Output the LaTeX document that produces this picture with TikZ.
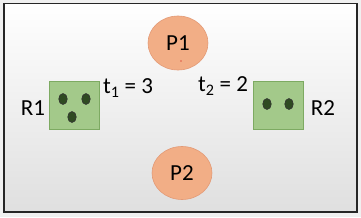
\documentclass[tikz,border=0pt]{standalone}
\usepackage{fontspec}
\setmainfont{Carlito}
\usetikzlibrary{shapes.geometric}
\begin{document}
\begin{tikzpicture}[x=1pt,y=-1pt,
  proc/.style={ellipse,draw=procborder,line width=0.6pt,fill=procfill,minimum width=60pt,minimum height=54pt,inner sep=0pt,font=\fontsize{23}{23}\selectfont},
  res/.style={draw=resborder,line width=0.8pt,fill=resfill,minimum width=50pt,minimum height=48pt,inner sep=0pt},
  inst/.style={ellipse,draw=black!80,line width=0.6pt,fill=instfill,minimum width=8.5pt,minimum height=11pt,inner sep=0pt},
  lbl/.style={font=\fontsize{23}{23}\selectfont,inner sep=0pt}]
\definecolor{procfill}{HTML}{F2AE86}
\definecolor{procborder}{HTML}{E39A76}
\definecolor{resfill}{HTML}{A3C98A}
\definecolor{resborder}{HTML}{7DAA62}
\definecolor{instfill}{HTML}{2F4A22}
\useasboundingbox (0,0) rectangle (361,217);
\fill[gray!12] (0,0) rectangle (361,217);
\shade[top color=white,bottom color=gray!25] (4,3.5) rectangle (357,212);
\draw[line width=1.5pt,black!85] (4,3.5) rectangle (357,212);
\node[proc] (P1) at (178,43) {P1};
\node[proc,minimum height=53pt] (P2) at (182,173) {P2};
\fill[red!80!black] (181,61) circle (0.7pt);
\node[res] (R1) at (74,105) {};
\node[res] (R2) at (278.5,105) {};
\node[inst] (a1) at (63,99) {};
\node[inst] (a2) at (86,99) {};
\node[inst] (a3) at (72,117) {};
\node[inst] (b1) at (267,104) {};
\node[inst] (b2) at (289,104) {};
\node[lbl] (L1) at (33,108) {R1};
\node[lbl] (L2) at (323,108) {R2};
\node[lbl] (T1) at (128,88) {t\textsubscript{1} = 3};
\node[lbl] (T2) at (223,86) {t\textsubscript{2} = 2};
\end{tikzpicture}
\end{document}
